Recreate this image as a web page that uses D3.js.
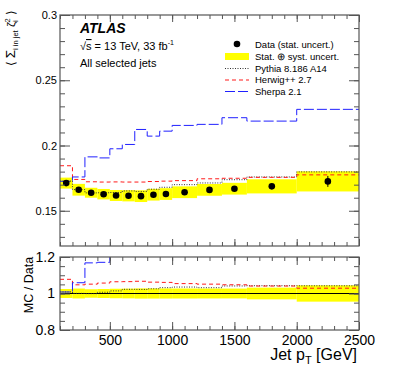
<!DOCTYPE html>
<html>
<head>
<meta charset="utf-8">
<script src="https://cdn.jsdelivr.net/npm/d3@7"></script>
<style>
  body { margin: 0; background: #fff; }
  svg { display: block; font-family: "Liberation Sans", Arial, sans-serif; }
</style>
</head>
<body>
<div id="wrapper"></div>
<script>
// bin edges in GeV
const binEdges = [100, 200, 300, 400, 500, 600, 700, 800, 900, 1000, 1200, 1400, 1600, 2000, 2500]
const dataVals = [0.1712, 0.1661, 0.1638, 0.1627, 0.1617, 0.1615, 0.1612, 0.1623, 0.1628, 0.1642, 0.1660, 0.1669, 0.1687, 0.1725]
const statErr  = [0.0005, 0.0004, 0.0004, 0.0004, 0.0004, 0.0005, 0.0005, 0.0006, 0.0007, 0.0007, 0.0010, 0.0014, 0.0018, 0.0042]
const totErr   = [0.0042, 0.0045, 0.0038, 0.0040, 0.0042, 0.0043, 0.0045, 0.0045, 0.0045, 0.0045, 0.0045, 0.0045, 0.0054, 0.0077]
const pythia   = [0.1727, 0.1662, 0.1637, 0.1638, 0.1640, 0.1652, 0.1648, 0.1665, 0.1680, 0.1700, 0.1713, 0.1738, 0.1759, 0.1798]
const herwig   = [0.1845, 0.1740, 0.1722, 0.1720, 0.1721, 0.1720, 0.1720, 0.1724, 0.1727, 0.1731, 0.1745, 0.1749, 0.1756, 0.1775]
const sherpa   = [0.1726, 0.1759, 0.1913, 0.1905, 0.1975, 0.2008, 0.2123, 0.2072, 0.2110, 0.2154, 0.2162, 0.2213, 0.2187, 0.2277]

const xTicks = [500, 1000, 1500, 2000, 2500]
const xMinor = d3.range(1, 26).map(d => d * 100)
const yTicks = [0.15, 0.2, 0.25, 0.3]
const yMinor = d3.range(13, 31).map(d => d / 100)
const rTicks = [0.8, 1, 1.2]
const rMinor = d3.range(16, 25).map(d => d / 20)

const width = 399, height = 379
const left = 60, right = 359
const topY0 = 15, topY1 = 246
const ratY0 = 257, ratY1 = 330
const axisCol = "#555"

const svg = d3.select("#wrapper").append("svg")
    .attr("width", width)
    .attr("height", height)

const x = d3.scaleLinear().domain([100, 2500]).range([left, right])
const y = d3.scaleLinear().domain([0.123, 0.3]).range([topY1, topY0])
const yr = d3.scaleLinear().domain([0.8, 1.2]).range([ratY1, ratY0])

const ratio = arr => arr.map((v, i) => v / dataVals[i])

function steps(vals, ys) {
    let pts = []
    vals.forEach((v, i) => {
        pts.push([x(binEdges[i]), ys(v)])
        pts.push([x(binEdges[i + 1]), ys(v)])
    })
    return d3.line()(pts)
}

const defs = svg.append("defs")
defs.append("clipPath").attr("id", "clipTop").append("rect")
    .attr("x", left).attr("y", topY0).attr("width", right - left).attr("height", topY1 - topY0)
defs.append("clipPath").attr("id", "clipRat").append("rect")
    .attr("x", left).attr("y", ratY0).attr("width", right - left).attr("height", ratY1 - ratY0)

const styles = [
    {vals: pythia, color: "#333", dash: "1,1.5", w: 1},
    {vals: herwig, color: "#ff1a1a", dash: "4,3", w: 1},
    {vals: sherpa, color: "#2020ff", dash: "10,3", w: 1}
]

// ---- top panel
const gTop = svg.append("g").attr("clip-path", "url(#clipTop)")
gTop.selectAll("rect.band").data(dataVals).enter().append("rect")
    .attr("x", (d, i) => x(binEdges[i]))
    .attr("width", (d, i) => x(binEdges[i + 1]) - x(binEdges[i]))
    .attr("y", (d, i) => y(d + totErr[i]))
    .attr("height", (d, i) => y(d - totErr[i]) - y(d + totErr[i]))
    .attr("fill", "#ffff00")
styles.forEach(s => {
    gTop.append("path").attr("d", steps(s.vals, y))
        .attr("fill", "none").attr("stroke", s.color)
        .attr("stroke-width", s.w).attr("stroke-dasharray", s.dash)
})
gTop.selectAll("line.err").data(dataVals).enter().append("line")
    .attr("x1", (d, i) => x((binEdges[i] + binEdges[i + 1]) / 2))
    .attr("x2", (d, i) => x((binEdges[i] + binEdges[i + 1]) / 2))
    .attr("y1", (d, i) => y(d + statErr[i]))
    .attr("y2", (d, i) => y(d - statErr[i]))
    .attr("stroke", "#000").attr("stroke-width", 1)
gTop.selectAll("circle").data(dataVals).enter().append("circle")
    .attr("cx", (d, i) => x((binEdges[i] + binEdges[i + 1]) / 2))
    .attr("cy", d => y(d))
    .attr("r", 3.3)
    .attr("fill", "#000")

// ---- ratio panel
const gRat = svg.append("g").attr("clip-path", "url(#clipRat)")
gRat.selectAll("rect.band").data(dataVals).enter().append("rect")
    .attr("x", (d, i) => x(binEdges[i]))
    .attr("width", (d, i) => x(binEdges[i + 1]) - x(binEdges[i]))
    .attr("y", (d, i) => yr(1 + totErr[i] / d))
    .attr("height", (d, i) => yr(1 - totErr[i] / d) - yr(1 + totErr[i] / d))
    .attr("fill", "#ffff00")
gRat.append("line")
    .attr("x1", left).attr("x2", right).attr("y1", yr(1)).attr("y2", yr(1))
    .attr("stroke", "#000").attr("stroke-width", 1)
styles.forEach(s => {
    gRat.append("path").attr("d", steps(ratio(s.vals), yr))
        .attr("fill", "none").attr("stroke", s.color)
        .attr("stroke-width", s.w).attr("stroke-dasharray", s.dash)
})

// ---- axes
function ticks(g, axis) {
    g.call(axis)
    g.select(".domain").remove()
    g.selectAll(".tick line").attr("stroke", axisCol)
    g.selectAll(".tick text").attr("fill", "#000").attr("font-family", "Liberation Sans, Arial, sans-serif")
}
function panelAxes(ys, y0, y1, major, minor, majLen, labels, fs, lx) {
    const lab = svg.append("g").attr("transform", "translate(" + left + ",0)")
    ticks(lab, d3.axisLeft(ys).tickValues(major).tickSize(-10).tickPadding(3)
            .tickFormat((d, i) => labels[i]))
    lab.selectAll("text").attr("font-size", fs).attr("x", lx)
    ticks(svg.append("g").attr("transform", "translate(" + left + ",0)"),
        d3.axisLeft(ys).tickValues(minor).tickSize(-5).tickFormat(""))
    ticks(svg.append("g").attr("transform", "translate(" + right + ",0)"),
        d3.axisRight(ys).tickValues(major).tickSize(-10).tickFormat(""))
    ticks(svg.append("g").attr("transform", "translate(" + right + ",0)"),
        d3.axisRight(ys).tickValues(minor).tickSize(-5).tickFormat(""))
    ticks(svg.append("g").attr("transform", "translate(0," + y0 + ")"),
        d3.axisTop(x).tickValues(xTicks).tickSize(-majLen).tickFormat(""))
    ticks(svg.append("g").attr("transform", "translate(0," + y0 + ")"),
        d3.axisTop(x).tickValues(xMinor).tickSize(-4).tickFormat(""))
    ticks(svg.append("g").attr("transform", "translate(0," + y1 + ")"),
        d3.axisBottom(x).tickValues(xMinor).tickSize(-4).tickFormat(""))
    svg.append("rect")
        .attr("x", left).attr("y", y0).attr("width", right - left).attr("height", y1 - y0)
        .attr("fill", "none").attr("stroke", axisCol).attr("stroke-width", 1.2)
}
panelAxes(y, topY0, topY1, yTicks, yMinor, 7, ["0.15", "0.2", "0.25", "0.3"], 11, -3)
panelAxes(yr, ratY0, ratY1, rTicks, rMinor, 8, ["0.8", "1", "1.2"], 14, -5)

// bottom labelled x axis
const xb = svg.append("g").attr("transform", "translate(0," + topY1 + ")")
ticks(xb, d3.axisBottom(x).tickValues(xTicks).tickSize(-7).tickFormat(""))
const xr = svg.append("g").attr("transform", "translate(0," + ratY1 + ")")
ticks(xr, d3.axisBottom(x).tickValues(xTicks).tickSize(-8).tickPadding(5).tickFormat(d3.format("d")))
xr.selectAll("text").attr("font-size", 14)

// titles
svg.append("text")
    .attr("x", 357).attr("y", 360)
    .attr("text-anchor", "end")
    .attr("font-size", 16)
    .call(t => {
        t.append("tspan").text("Jet p")
        t.append("tspan").attr("font-size", 11).attr("dy", 4).text("T")
        t.append("tspan").attr("dy", -4).text(" [GeV]")
    })
svg.append("text")
    .attr("transform", "translate(33,285) rotate(-90)")
    .attr("text-anchor", "middle")
    .attr("font-size", 12.5)
    .text("MC / Data")
svg.append("text")
    .attr("transform", "translate(15,10) rotate(-90)")
    .attr("text-anchor", "end")
    .attr("font-size", 11.5)
    .call(t => {
        t.append("tspan").text("\u27E8 ")
        t.append("tspan").attr("font-size", 13.5).text("\u03A3")
        t.append("tspan").attr("font-size", 7.5).attr("dy", 3).text("i in jet")
        t.append("tspan").attr("dy", -3).text(" \u03B6")
        t.append("tspan").attr("font-size", 7.5).attr("dy", 3).text("i")
        t.append("tspan").attr("font-size", 7.5).attr("dx", -2).attr("dy", -8).text("2")
        t.append("tspan").attr("dy", 5).text(" \u27E9")
    })

// labels
svg.append("text").attr("x", 80).attr("y", 33)
    .attr("font-size", 14).attr("font-weight", "bold").attr("font-style", "italic")
    .text("ATLAS")
svg.append("text").attr("x", 80).attr("y", 50).attr("font-size", 11)
    .call(t => {
        t.append("tspan").text("\u221A")
        t.append("tspan").attr("text-decoration", "overline").text("s")
        t.append("tspan").text(" = 13 TeV, 33 fb")
        t.append("tspan").attr("font-size", 7).attr("dy", -5).text("-1")
    })
svg.append("text").attr("x", 80).attr("y", 66.5).attr("font-size", 11)
    .text("All selected jets")

// legend
const legItems = ["Data (stat. uncert.)", "Stat. \u2295 syst. uncert.", "Pythia 8.186 A14", "Herwig++ 2.7", "Sherpa 2.1"]
const legY = [44, 56.5, 68, 79.5, 91]
const lx0 = 225, lx1 = 249
legItems.forEach((s, i) => {
    svg.append("text").attr("x", 255).attr("y", legY[i] + 3.5)
        .attr("font-size", 9.5).text(s)
})
svg.append("circle").attr("cx", (lx0 + lx1) / 2).attr("cy", legY[0]).attr("r", 3.3).attr("fill", "#000")
svg.append("rect").attr("x", lx0).attr("y", legY[1] - 3.5).attr("width", lx1 - lx0).attr("height", 7).attr("fill", "#ffff00")
styles.forEach((s, i) => {
    svg.append("line").attr("x1", lx0).attr("x2", lx1).attr("y1", legY[i + 2] + 0.5).attr("y2", legY[i + 2] + 0.5)
        .attr("stroke", s.color).attr("stroke-width", 1.2).attr("stroke-dasharray", s.dash)
})
</script>
</body>
</html>
